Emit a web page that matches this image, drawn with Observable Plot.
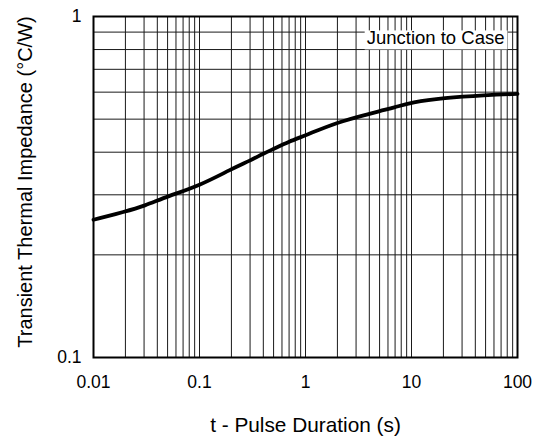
<!DOCTYPE html>
<html>
<head>
<meta charset="utf-8">
<script src="https://cdn.jsdelivr.net/npm/d3@7"></script>
<script src="https://cdn.jsdelivr.net/npm/@observablehq/plot@0.6"></script>
<style>
  html, body { margin: 0; padding: 0; background: #fff; }
  #chart { width: 542px; height: 441px; }
  svg { font-family: "Liberation Sans", Arial, Helvetica, sans-serif; }
</style>
</head>
<body>
<div id="chart"></div>
<script>
// Data
const tSeconds = [0.01, 0.02, 0.03, 0.05, 0.1, 0.2, 0.3, 0.4, 0.5, 0.7, 1, 2, 4, 5, 7, 10, 20, 50, 100];
const zthJC    = [0.2535, 0.268, 0.278, 0.297, 0.319, 0.357, 0.378, 0.396, 0.409, 0.430, 0.448, 0.49, 0.518, 0.528, 0.542, 0.56, 0.577, 0.588, 0.593];

// Tick labels / grid
const xTickLabels = [0.01, 0.1, 1, 10, 100];
const yTickLabels = [0.1, 1];
const gridMultipliers = [1, 2, 3, 4, 5, 6, 7, 8, 9];
const xGrid = xTickLabels.slice(0, -1).flatMap(d => gridMultipliers.map(m => d * m)).concat([100]);
const yGrid = yTickLabels.slice(0, -1).flatMap(d => gridMultipliers.map(m => d * m)).concat([1]);

const seriesLabel = "Junction to Case";
const xLabel = "t - Pulse Duration (s)";
const yLabel = "Transient Thermal Impedance (°C/W)";

const data = tSeconds.map((t, i) => ({t, z: zthJC[i]}));

const chart = Plot.plot({
  width: 542,
  height: 441,
  marginLeft: 93,
  marginRight: 25,
  marginTop: 16,
  marginBottom: 84,
  style: {fontFamily: '"Liberation Sans", Arial, Helvetica, sans-serif', fontSize: "18px", color: "#000", background: "#fff"},
  x: {type: "log", domain: [0.01, 100]},
  y: {type: "log", domain: [0.1, 1]},
  marks: [
    Plot.ruleX(xGrid, {stroke: "#1a1a1a", strokeWidth: 1}),
    Plot.ruleY(yGrid, {stroke: "#1a1a1a", strokeWidth: 1}),
    Plot.text([seriesLabel], {frameAnchor: "top-right", lineAnchor: "middle", dx: -13, dy: 22, text: d => d, fontSize: 18.5, fill: "#000", className: "series-label"}),
    Plot.line(data, {x: "t", y: "z", curve: "basis", stroke: "#000", strokeWidth: 3.8}),
    Plot.frame({stroke: "#000", strokeWidth: 2}),
    Plot.axisX(xTickLabels, {tickSize: 0, tickPadding: 18, fontSize: 17.5, tickFormat: d => String(d), label: null}),
    Plot.axisY(yTickLabels, {tickSize: 0, tickPadding: 12, fontSize: 17.5, tickFormat: d => String(d), label: null}),
    Plot.text([xLabel], {frameAnchor: "bottom", lineAnchor: "middle", dy: 68, text: d => d, fontSize: 20.8, fill: "#000"}),
    Plot.text([yLabel], {frameAnchor: "left", textAnchor: "middle", lineAnchor: "middle", dx: -68, dy: -5, rotate: -90, text: d => d, fontSize: 20, fill: "#000"})
  ]
});
document.getElementById("chart").appendChild(chart);

// White box behind the series label, hiding the grid
const g = chart.querySelector(".series-label");
if (g) {
  const txt = g.querySelector("text");
  if (txt) {
    const bb = txt.getBBox();
    const rect = document.createElementNS("http://www.w3.org/2000/svg", "rect");
    rect.setAttribute("x", bb.x - 2);
    rect.setAttribute("y", bb.y + 3);
    rect.setAttribute("width", bb.width + 5);
    rect.setAttribute("height", bb.height - 2);
    rect.setAttribute("fill", "#fff");
    const tr = txt.getAttribute("transform");
    if (tr) rect.setAttribute("transform", tr);
    txt.parentNode.insertBefore(rect, txt);
  }
}
</script>
</body>
</html>
